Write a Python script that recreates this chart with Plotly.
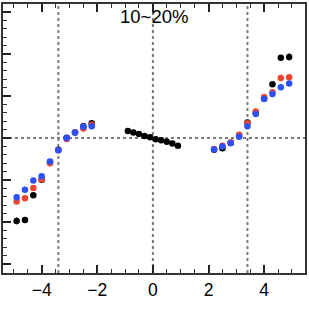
import plotly.graph_objects as go

# Data
x_fwd = [-4.9, -4.6, -4.3, -4.0, -3.7, -3.4, -3.1, -2.8, -2.5, -2.2]
x_mid = [-0.9, -0.7, -0.5, -0.3, -0.1, 0.1, 0.3, 0.5, 0.7, 0.9]
x_bwd = [2.2, 2.5, 2.8, 3.1, 3.4, 3.7, 4.0, 4.3, 4.6, 4.9]

black_fwd = [-1.97, -1.95, -1.36, -0.99, -0.57, -0.28, 0.01, 0.13, 0.28, 0.35]
black_mid = [0.17, 0.13, 0.10, 0.05, 0.02, -0.03, -0.05, -0.09, -0.13, -0.18]
black_bwd = [-0.28, -0.24, -0.12, 0.05, 0.37, 0.60, 0.95, 1.28, 1.91, 1.93]
black_err_fwd = [0.08, 0.05, 0.03, 0.02, 0.02, 0.02, 0.02, 0.02, 0.03, 0.04]
black_err_bwd = [0.03, 0.03, 0.02, 0.02, 0.02, 0.02, 0.02, 0.03, 0.04, 0.08]

red_fwd = [-1.51, -1.43, -1.19, -0.98, -0.60, -0.29, -0.02, 0.14, 0.23, 0.32]
red_bwd = [-0.26, -0.18, -0.10, 0.08, 0.35, 0.63, 0.98, 1.09, 1.43, 1.45]

blue_fwd = [-1.41, -1.23, -1.01, -0.91, -0.56, -0.29, 0.00, 0.13, 0.27, 0.28]
blue_bwd = [-0.27, -0.20, -0.12, 0.03, 0.28, 0.57, 0.93, 1.05, 1.21, 1.30]

title_text = "10~20%"
x_ticks = [-4, -2, 0, 2, 4]
x_guides = [-3.4, 0, 3.4]

BLACK = "#000000"
RED = "#ee4631"
BLUE = "#2e50f7"

fig = go.Figure()

marker_size = 6.5

fig.add_trace(go.Scatter(
    x=x_fwd + x_mid + x_bwd,
    y=black_fwd + black_mid + black_bwd,
    mode="markers",
    marker=dict(color=BLACK, size=marker_size),
    error_y=dict(type="data", array=black_err_fwd + [0.01] * len(x_mid) + black_err_bwd,
                 color=BLACK, thickness=1.5, width=0),
    showlegend=False,
))
fig.add_trace(go.Scatter(
    x=x_fwd + x_bwd, y=red_fwd + red_bwd, mode="markers",
    marker=dict(color=RED, size=marker_size), showlegend=False,
))
fig.add_trace(go.Scatter(
    x=x_fwd + x_bwd, y=blue_fwd + blue_bwd, mode="markers",
    marker=dict(color=BLUE, size=marker_size), showlegend=False,
))

guide = dict(color="#7a7a7a", width=2, dash="dot")
shapes = [dict(type="line", xref="x", yref="paper", x0=g, x1=g, y0=0, y1=1,
               line=guide, layer="below") for g in x_guides]
shapes.append(dict(type="line", xref="paper", yref="y", x0=0, x1=1, y0=0, y1=0,
                   line=guide, layer="below"))

fig.update_layout(
    width=309, height=310,
    margin=dict(l=3, r=3, t=2, b=37),
    paper_bgcolor="white", plot_bgcolor="white",
    font=dict(family="Liberation Sans, Arial, sans-serif", size=17, color="black"),
    shapes=shapes,
    annotations=[dict(text=title_text, xref="paper", yref="paper", x=0.5, y=0.953,
                      xanchor="center", yanchor="middle", showarrow=False,
                      font=dict(size=18.5, color="black"))],
)

fig.update_xaxes(
    range=[-5.39, 5.47], tickvals=x_ticks, ticks="inside", ticklen=8, tickwidth=1.5,
    tickcolor="#222222", showline=True, linecolor="#333333", linewidth=1.5,
    mirror="ticks", showgrid=False, zeroline=False,
    minor=dict(dtick=0.5, tick0=0, ticks="inside", ticklen=4, tickwidth=1.2,
               tickcolor="#333333", showgrid=False),
    tickfont=dict(size=17.5),
)
fig.update_yaxes(
    range=[-3.21, 3.19], dtick=1, tick0=0, ticks="inside", ticklen=8, tickwidth=1.5,
    tickcolor="#222222", showticklabels=False, showline=True, linecolor="#333333",
    linewidth=1.5, mirror=True, showgrid=False, zeroline=False,
    minor=dict(dtick=0.2, tick0=0, ticks="inside", ticklen=4.5, tickwidth=1.2,
               tickcolor="#333333", showgrid=False),
)

fig.write_html("out.html")
